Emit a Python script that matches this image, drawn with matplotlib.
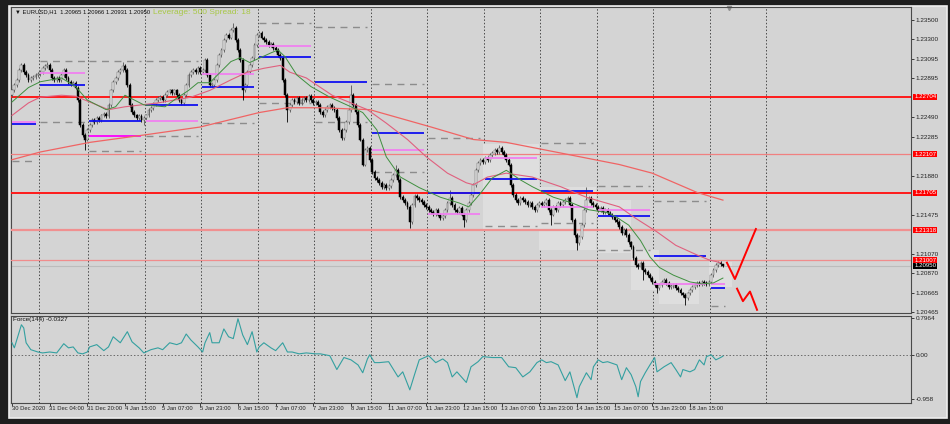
import numpy as np
import matplotlib
matplotlib.use("Agg")
import matplotlib.pyplot as plt
from matplotlib.patches import Rectangle
from matplotlib.transforms import blended_transform_factory

plt.rcParams['font.family'] = ['Liberation Sans', 'DejaVu Sans']

# EURUSD H1, one value per hourly bar from 30 Dec 2020 12:00.
# price = 1.2 + pips / 10000
close_pips = [
    277, 283, 288, 298, 303, 296, 293, 288, 290, 291,
    293, 294, 296, 300, 302, 303, 298, 290, 288, 290,
    288, 293, 298, 290, 286, 284, 285, 280, 267, 241,
    231, 226, 236, 241, 246, 244, 248, 246, 251, 253,
    250, 262, 277, 286, 290, 296, 298, 302, 298, 283,
    262, 255, 251, 248, 250, 246, 248, 251, 257, 259,
    263, 267, 269, 270, 267, 272, 275, 277, 274, 277,
    272, 267, 264, 272, 283, 293, 296, 298, 296, 300,
    296, 298, 309, 293, 283, 283, 288, 303, 314, 319,
    329, 335, 332, 340, 342, 329, 319, 309, 277, 283,
    296, 303, 311, 324, 335, 337, 332, 329, 327, 324,
    325, 321, 319, 314, 311, 288, 272, 257, 262, 267,
    265, 269, 264, 267, 269, 267, 271, 267, 264, 265,
    262, 255, 251, 257, 260, 262, 259, 257, 248, 236,
    228, 236, 244, 257, 272, 262, 255, 241, 226, 200,
    215, 217, 205, 192, 186, 184, 181, 177, 179, 176,
    178, 184, 189, 194, 184, 166, 163, 160, 156, 140,
    158, 167, 165, 163, 161, 158, 156, 153, 151, 149,
    153, 148, 144, 146, 153, 160, 165, 158, 153, 151,
    155, 148, 142, 153, 160, 168, 179, 194, 202, 205,
    203, 207, 205, 210, 212, 215, 213, 217, 213, 210,
    205, 200, 179, 168, 163, 160, 165, 163, 161, 158,
    160, 156, 153, 158, 160, 158, 160, 163, 153, 148,
    156, 153, 160, 158, 161, 163, 165, 158, 142, 127,
    118, 125, 137, 153, 163, 165, 160, 158, 156, 153,
    155, 151, 153, 150, 148, 145, 142, 140, 135, 129,
    132, 127, 119, 114, 103, 96, 93, 98, 90, 88,
    85, 82, 78, 75, 72, 75, 78, 80, 77, 73,
    74, 75, 72, 70, 66, 64, 61, 66, 70, 73,
    75, 77, 76, 78, 77, 76, 78, 85, 90, 96,
    98, 97, 95,
]
first_open_pips = 272
# bars whose wicks stick out further than the usual
wick_high = {15: 307, 47: 307, 94: 347, 144: 283, 163: 200, 186: 174,
             207: 220, 244: 177, 302: 97}
wick_low = {31: 215, 56: 241, 98: 267, 117: 244, 169: 134, 192: 135,
            229: 137, 240: 111, 268: 80, 274: 66, 286: 54, 302: 93}

# moving averages (bar, pips)
green_bar = [0, 7, 12, 21, 27, 32, 40, 44, 48, 52, 56, 65, 70, 75, 79, 84, 93, 97,
             101, 110, 113, 116, 121, 127, 135, 144, 149, 155, 159, 165, 173, 182,
             190, 194, 199, 204, 210, 216, 221, 230, 238, 245, 253, 257, 262, 267,
             271, 275, 281, 288, 293, 298, 302]
green_pips = [265, 280, 286, 290, 281, 267, 257, 260, 272, 267, 262, 260, 269, 277,
              285, 285, 307, 311, 306, 316, 319, 312, 293, 281, 270, 260, 254, 236,
              208, 187, 176, 166, 160, 156, 170, 186, 194, 184, 177, 166, 160, 153,
              150, 145, 137, 121, 104, 93, 85, 78, 76, 77, 82]
pink_bar = [0, 7, 12, 21, 27, 34, 41, 48, 55, 62, 69, 76, 84, 93, 100, 107, 114, 118,
            125, 136, 151, 159, 168, 176, 185, 193, 196, 202, 210, 221, 233, 244,
            258, 265, 274, 282, 291, 296, 301]
pink_pips = [251, 264, 270, 272, 271, 264, 257, 260, 262, 264, 267, 270, 277, 288,
             296, 300, 303, 296, 290, 272, 257, 243, 226, 208, 191, 181, 179, 187,
             191, 187, 177, 166, 156, 144, 130, 116, 106, 101, 98]
long_bar = [0, 12, 33, 57, 80, 105, 117, 131, 152, 178, 196, 210, 233, 258, 272, 291, 302]
long_pips = [205, 213, 223, 231, 239, 254, 259, 259, 257, 239, 226, 223, 212, 200,
             191, 171, 163]

# horizontal levels
level_prices = [1.22704, 1.22107, 1.21705, 1.21318, 1.21007]
level_colors = ['#ff1a1a', '#f08080', '#ff1a1a', '#f09090', '#f08c8c']
level_widths = [1.4, 0.9, 1.4, 1.6, 0.9]
bid_price = 1.20950

# daily lines (one value per day, None = not drawn)
day_edges = [-0.4, 11.5, 32.5, 56.5, 80.5, 104.5, 128.5, 152.5, 176.5, 200.5,
             224.5, 248.5, 272.5, 296.5, 303]
blue_pips = [242, 283, 245, 262, 281, 312, 286, 233, 170, 185, 172, 146, 105, 72]
violet_pips = [244, 295, 230, 245, 294, 323, None, 215, 149, 207, 156, 153, 76, 76]
dash_hi_pips = [None, 308, 308, 308, None, 347, 343, 284, 228, None, 222, 178, 162, None]
dash_lo_pips = [204, 244, 214, 230, 243, 264, 244, 192, None, 136, 139, 111, None, 53]

# day separators
separators = [11.5, 32.5, 56.5, 80.5, 104.5, 128.5, 152.5, 176.5, 200.5, 224.5,
              248.5, 272.5, 296.5, 320.5]

# light boxes behind the candles (bar0, bar1, low pips, high pips)
box_bar0 = [200, 224, 249, 263, 275, 296]
box_bar1 = [224, 248, 263, 275, 292, 306]
box_lo = [133, 111, 108, 70, 55, 73]
box_hi = [221, 177, 163, 111, 80, 99]

# hand-drawn forecast arrows
arrow_up_bar = [303.7, 307.1, 316]
arrow_up_pips = [98, 81, 133]
arrow_dn_bar = [308, 310.5, 313.5, 316.5]
arrow_dn_pips = [71, 58, 68, 49]

# Force(144)
force_bar = [0, 1, 3, 4, 5, 6, 8, 11, 13, 16, 19, 22, 24, 26, 28, 30, 32, 33, 36, 39,
             41, 43, 46, 49, 51, 54, 56, 59, 62, 64, 67, 70, 72, 74, 76, 79, 81, 82,
             84, 85, 88, 90, 92, 94, 96, 98, 100, 102, 104, 105, 107, 110, 112, 115,
             117, 119, 122, 125, 129, 131, 135, 138, 141, 144, 147, 149, 151, 152,
             154, 156, 160, 164, 166, 169, 171, 173, 177, 180, 183, 185, 187, 189,
             193, 195, 198, 200, 204, 208, 211, 214, 217, 220, 223, 225, 227, 229,
             232, 235, 237, 240, 241, 244, 246, 247, 249, 251, 253, 257, 259, 261,
             263, 265, 266, 267, 269, 271, 273, 274, 277, 280, 282, 284, 285, 288,
             290, 292, 294, 295, 297, 299, 301, 302]
force_val = [0.26, 0.15, 0.48, 0.65, 0.58, 0.26, 0.11, 0.06, 0.04, 0.06,
             0.04, 0.24, 0.15, 0.17, 0.04, 0.02, 0.06, 0.17, 0.22, 0.09,
             0.17, 0.39, 0.26, 0.50, 0.28, 0.15, 0.04, 0.11, 0.15, 0.11,
             0.26, 0.22, 0.26, 0.45, 0.32, 0.17, 0.06, 0.26, 0.48, 0.26,
             0.26, 0.56, 0.39, 0.35, 0.78, 0.43, 0.22, 0.50, 0.06, 0.17,
             0.26, 0.15, 0.09, 0.26, 0.06, 0.06, 0.02, 0.04, 0.02, 0.02,
             -0.02, -0.32, -0.06, -0.11, -0.22, -0.39, -0.09, 0.0, -0.17, -0.17,
             -0.15, -0.48, -0.37, -0.76, -0.43, -0.11, -0.02, -0.17, -0.09, -0.17,
             -0.48, -0.37, -0.60, -0.26, -0.15, -0.04, -0.06, -0.06, -0.26, -0.28,
             -0.48, -0.37, -0.17, -0.11, -0.17, -0.15, -0.22, -0.56, -0.37, -0.93,
             -0.69, -0.39, -0.54, -0.26, -0.11, -0.17, -0.15, -0.22, -0.54, -0.28,
             -0.43, -0.69, -0.91, -0.58, -0.39, -0.22, -0.06, -0.37, -0.26, -0.17,
             -0.32, -0.48, -0.32, -0.37, -0.32, -0.11, -0.22, -0.04, 0.0, -0.11,
             -0.06, -0.03]

price_ticks = [1.235, 1.233, 1.23095, 1.22895, 1.2249, 1.22285, 1.2188,
               1.21475, 1.2107, 1.2087, 1.20665, 1.20465]
time_bars = list(range(0, 289, 16))
time_labels = ["30 Dec 2020", "31 Dec 04:00", "31 Dec 20:00", "4 Jan 15:00",
               "5 Jan 07:00", "5 Jan 23:00", "6 Jan 15:00", "7 Jan 07:00",
               "7 Jan 23:00", "8 Jan 15:00", "11 Jan 07:00", "11 Jan 23:00",
               "12 Jan 15:00", "13 Jan 07:00", "13 Jan 23:00", "14 Jan 15:00",
               "15 Jan 07:00", "15 Jan 23:00", "18 Jan 15:00"]


def pips(v):
    return 1.2 + np.asarray(v, dtype=float) / 1e4


W, H = 950, 424
BG = '#d4d4d4'
FS = 4.6
fig = plt.figure(figsize=(W / 100, H / 100), dpi=100, facecolor='#1e1e1e')


def px_rect(x0, y0, x1, y1):
    return [x0 / W, 1 - y1 / H, (x1 - x0) / W, (y1 - y0) / H]


# chart window behind the panes
fig.patches.append(Rectangle((9 / W, 1 - 418 / H), 938 / W, 412 / H,
                             transform=fig.transFigure, facecolor=BG,
                             edgecolor='#eeeeee', lw=1.2, zorder=-10))

ax = fig.add_axes(px_rect(11, 7, 911, 313))
ax2 = fig.add_axes(px_rect(11, 316, 911, 403), sharex=ax)
for a in (ax, ax2):
    a.set_facecolor(BG)
    for s in a.spines.values():
        s.set_color('#4a4a4a')
        s.set_linewidth(0.8)
    for x in separators:
        a.axvline(x, color='#4a4a4a', lw=0.7, ls=(0, (1.5, 2)), zorder=1)

# candles
close = pips(close_pips)
opens = np.r_[pips(first_open_pips), close[:-1]]
wick_pad = 0.0002
hi = np.maximum(opens, close) + wick_pad
lo = np.minimum(opens, close) - wick_pad
for b, v in wick_high.items():
    hi[b] = pips(v)
for b, v in wick_low.items():
    lo[b] = pips(v)
bars = np.arange(len(close))
up = close >= opens
body = np.maximum(np.abs(close - opens), 0.00005)

# light boxes
for b0, b1, l, h in zip(box_bar0, box_bar1, box_lo, box_hi):
    ax.add_patch(Rectangle((b0, pips(l)), b1 - b0, pips(h) - pips(l),
                           facecolor='#dedede', edgecolor='none', zorder=1))

# levels
for p, c, w in zip(level_prices, level_colors, level_widths):
    ax.axhline(p, color=c, lw=w, zorder=3)
ax.axhline(bid_price, color='#bcbcbc', lw=0.8, zorder=2)

# daily lines
for k in range(len(day_edges) - 1):
    x0, x1 = day_edges[k] + 0.3, day_edges[k + 1] - 1.5
    if k == len(day_edges) - 2:
        x1 = day_edges[k + 1]
    if blue_pips[k] is not None:
        ax.hlines(pips(blue_pips[k]), x0, x1, colors='#1010f0', lw=1.3, zorder=6)
    if violet_pips[k] is not None:
        vc = '#ff00ff' if k == 2 else '#f080f0'
        ax.hlines(pips(violet_pips[k]), x0, x1, colors=vc, lw=1.3, zorder=6)
    for d in (dash_hi_pips[k], dash_lo_pips[k]):
        if d is not None:
            ax.hlines(pips(d), x0, x1, colors='#8c8c8c', lw=1.0,
                      linestyles=(0, (5, 4)), zorder=2)

ax.vlines(bars, lo, hi, colors=np.where(up, '#555555', '#000000'), lw=0.6, zorder=4)
ax.bar(bars[up], body[up], bottom=opens[up], width=0.8, color='#ececec',
       edgecolor='#606060', lw=0.35, zorder=5)
ax.bar(bars[~up], body[~up], bottom=close[~up], width=0.8, color='#000000',
       edgecolor='#000000', lw=0.35, zorder=5)

# moving averages
ax.plot(long_bar, pips(long_pips), color='#f06464', lw=0.9, zorder=7)
ax.plot(pink_bar, pips(pink_pips), color='#e0607e', lw=0.8, zorder=7)
ax.plot(green_bar, pips(green_pips), color='#3f8f3f', lw=0.7, zorder=7)

# forecast arrows
ax.plot(arrow_up_bar, pips(arrow_up_pips), color='#ff0000', lw=1.4, zorder=8)
ax.plot(arrow_dn_bar, pips(arrow_dn_pips), color='#ff0000', lw=1.4, zorder=8)

ax.set_xlim(-0.42, 381.9)
ax.set_ylim(1.20457, 1.23637)
ax.yaxis.tick_right()
ax.set_yticks(price_ticks)
ax.set_yticklabels([f"{p:.5f}" for p in price_ticks], fontsize=FS)
ax.tick_params(axis='y', length=2, width=0.6, pad=1.5, colors='#222222')
ax.tick_params(axis='x', bottom=False, labelbottom=False)

trans = blended_transform_factory(ax.transAxes, ax.transData)
for p in level_prices:
    ax.text(1.0035, p, f"{p:.5f}", transform=trans, fontsize=4.4, color='white',
            va='center', ha='left', clip_on=False, zorder=10,
            bbox=dict(boxstyle='square,pad=0.12', fc='#ff0000', ec='none'))
ax.text(1.0035, bid_price - 0.00004, f"{bid_price:.5f}", transform=trans,
        fontsize=4.4, color='white', va='center', ha='left', clip_on=False,
        zorder=11, bbox=dict(boxstyle='square,pad=0.12', fc='#000000', ec='none'))

ax.text(4 / 900, 1 - 5 / 306, "\u25bc EURUSD,H1  1.20965 1.20966 1.20931 1.20950",
        transform=ax.transAxes, fontsize=4.2, color='#111111', va='center', ha='left')
ax.text(142 / 900, 1 - 5 / 306, "Leverage: 500 Spread: 18", transform=ax.transAxes,
        fontsize=6, color='#a8c846', va='center', ha='left')
ax.plot([718 / 900], [0.997], marker='v', ms=3, color='#909090',
        transform=ax.transAxes, clip_on=False)

# Force pane
ax2.plot(force_bar, force_val, color='#34a0a0', lw=0.8, zorder=5)
ax2.axhline(0, color='#6a6a6a', lw=0.7, ls=(0, (1.5, 2)), zorder=2)
ax2.set_ylim(-1.045, 0.84)
ax2.yaxis.tick_right()
ax2.set_yticks([0.7964, 0.0, -0.958])
ax2.set_yticklabels(['0.7964', '0.00', '-0.958'], fontsize=FS)
ax2.tick_params(axis='y', length=2, width=0.6, pad=1.5, colors='#222222')
ax2.set_xticks(time_bars)
ax2.tick_params(axis='x', length=2.5, width=0.6, colors='#222222', labelbottom=False)
ax2.text(2 / 900, 1 - 3 / 87, "Force(144) -0.0327", transform=ax2.transAxes,
         fontsize=FS, color='#111111', va='center', ha='left')
ttrans = blended_transform_factory(ax2.transData, ax2.transAxes)
for b, lab in zip(time_bars, time_labels):
    ax2.text(b - 0.2, -6 / 87, lab, transform=ttrans, fontsize=4.2, color='#222222',
             va='center', ha='left', clip_on=False)

fig.savefig("out.png", dpi=100, facecolor=fig.get_facecolor())
